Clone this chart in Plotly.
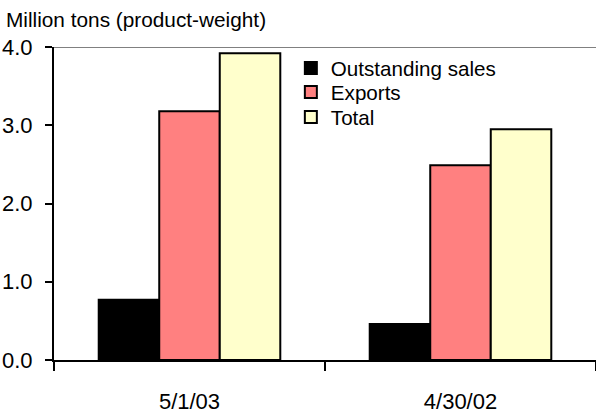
import plotly.graph_objects as go

categories = ["5/1/03", "4/30/02"]
outstanding_sales = [0.77, 0.46]
exports = [3.18, 2.49]
total = [3.92, 2.95]
series_names = ["Outstanding sales", "Exports", "Total"]
y_tickvals = [0, 1, 2, 3, 4]
y_ticktext = ["0.0", "1.0", "2.0", "3.0", "4.0"]
title_text = "Million tons (product-weight)"

colors = ["#000000", "#FF8080", "#FFFFCC"]
legend_ids = ["legend", "legend2", "legend3"]
legend_tops = [0.9968, 0.920, 0.840]
FONT = "Liberation Sans, Arial, sans-serif"

fig = go.Figure()
for name, vals, c, lg in zip(series_names, [outstanding_sales, exports, total], colors, legend_ids):
    fig.add_trace(go.Bar(
        x=categories, y=vals, name=name,
        marker=dict(color=c, line=dict(color="black", width=2)),
        hoverinfo="skip", legend=lg,
    ))

legend_common = dict(
    x=0.437, xanchor="left", yanchor="top",
    font=dict(family=FONT, size=20.6, color="black"),
    bgcolor="rgba(0,0,0,0)", borderwidth=0,
)

fig.update_layout(
    barmode="group",
    bargap=0.33,
    bargroupgap=0,
    width=596,
    height=415,
    margin=dict(l=54, r=0, t=47, b=55, pad=0),
    plot_bgcolor="white",
    paper_bgcolor="white",
    font=dict(family=FONT, color="black"),
    title=dict(
        text=title_text,
        font=dict(family=FONT, size=20.8, color="black"),
        x=6 / 596, xanchor="left", xref="container",
        y=1 - 20 / 415, yanchor="middle", yref="container",
    ),
    showlegend=True,
    legend=dict(y=legend_tops[0], **legend_common),
    legend2=dict(y=legend_tops[1], **legend_common),
    legend3=dict(y=legend_tops[2], **legend_common),
    xaxis=dict(
        type="category",
        showline=True, linecolor="black", linewidth=2,
        ticks="outside", tickson="boundaries", ticklen=9, tickwidth=2, tickcolor="black",
        tickfont=dict(family=FONT, size=22, color="black"),
        showgrid=False, zeroline=False,
        ticklabelstandoff=21,
    ),
    yaxis=dict(
        range=[0, 4],
        tickvals=y_tickvals, ticktext=y_ticktext,
        showline=True, linecolor="black", linewidth=2,
        ticks="outside", ticklen=7, tickwidth=2, tickcolor="black",
        tickfont=dict(family=FONT, size=22, color="black"),
        showgrid=False, zeroline=False,
        ticklabelstandoff=8,
    ),
    shapes=[dict(
        type="line", xref="paper", x0=0, x1=1, yref="y", y0=4, y1=4,
        line=dict(color="#808080", width=2), layer="below",
    )],
)

fig.write_html("out.html")
